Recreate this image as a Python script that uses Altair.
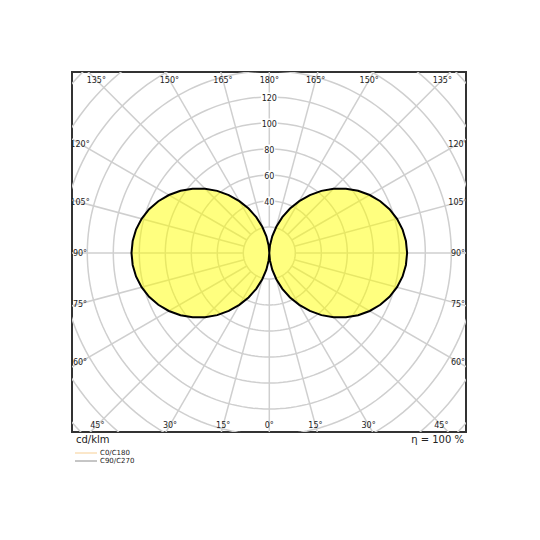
import altair as alt
import pandas as pd
import numpy as np

# ---- data ----
GAMMA = list(range(0, 185, 5))
INTENSITY = [0.0, 5.7, 13.0, 20.9, 29.3, 37.7, 46.1, 54.4, 62.4, 69.9, 77.0, 83.4,
             89.2, 94.2, 98.4, 101.7, 104.1, 105.5, 106.0,
             105.5, 104.1, 101.7, 98.4, 94.2, 89.2, 83.4, 77.0, 69.9, 62.4, 54.4,
             46.1, 37.7, 29.3, 20.9, 13.0, 5.7, 0.0]
RINGS = [20, 40, 60, 80, 100, 120, 140, 160, 180, 200, 220]
RING_LABELS = [40, 60, 80, 100, 120]
SPOKES = list(range(0, 360, 15))
ANGLE_LABELS = [0, 15, 30, 45, 60, 75, 90, 105, 120, 135, 150, 165, 180]
UNIT_LABEL = "cd/klm"
EFF_LABEL = "η = 100 %"
LEGEND = ["C0/C180", "C90/C270"]
LEGEND_COLORS = ["#f7cf94", "#8c8c8c"]

# ---- layout ----
PX = 1.3                      # pixels per cd/klm
W, H = 394, 360
XDOM = [-197.3 / PX, 196.7 / PX]
YDOM = [-179.0 / PX, 181.0 / PX]
xs = alt.Scale(domain=XDOM, nice=False, zero=False)
ys = alt.Scale(domain=YDOM, nice=False, zero=False)
FONT = "DejaVu Sans"
GRID = "#cfcfcf"

g = np.radians(GAMMA)
I = np.array(INTENSITY)

# outline: right half gamma 0..180, then left half 180..0
right = pd.DataFrame({"x": I * np.sin(g), "y": -I * np.cos(g)})
left = pd.DataFrame({"x": -I * np.sin(g), "y": -I * np.cos(g)}).iloc[::-1]
outline = pd.concat([right, left], ignore_index=True)
outline["o"] = range(len(outline))

# fill: pair gamma with 180-gamma
n = len(GAMMA)
half = [i for i in range(n) if GAMMA[i] <= 90]
rows = []
for side in (-1, 1):
    for i in half:
        j = n - 1 - i
        rows.append({"side": side,
                     "x": side * INTENSITY[i] * np.sin(g[i]),
                     "y": -INTENSITY[i] * np.cos(g[i]),
                     "y2": -INTENSITY[j] * np.cos(g[j])})
fill = pd.DataFrame(rows)

# rings
rr = []
for R in RINGS:
    for k, a in enumerate(np.radians(np.arange(0, 362, 2))):
        rr.append({"ring": R, "k": k, "x": R * np.sin(a), "y": R * np.cos(a)})
rings = pd.DataFrame(rr)

# spokes
sa = np.radians(SPOKES)
spokes = pd.DataFrame({"x": RINGS[0] * np.sin(sa), "y": RINGS[0] * np.cos(sa),
                       "x2": 320 * np.sin(sa), "y2": 320 * np.cos(sa)})

# angle labels placed on the spoke, just inside the frame
inx_l, inx_r = (197.3 - 8) / PX, (196.7 - 8) / PX
iny_b, iny_t = (179.0 - 7) / PX, (181.0 - 8) / PX
lab = []
for a in ANGLE_LABELS:
    sides = (-1, 1) if 0 < a < 180 else (1,)
    for s in sides:
        dx, dy = np.sin(np.radians(a)) * s, -np.cos(np.radians(a))
        ts = []
        if dx < -1e-9: ts.append(inx_l / -dx)
        if dx > 1e-9: ts.append(inx_r / dx)
        if dy < -1e-9: ts.append(iny_b / -dy)
        if dy > 1e-9: ts.append(iny_t / dy)
        t = min(ts)
        lab.append({"x": t * dx, "y": t * dy, "t": f"{a}°"})
angle_labels = pd.DataFrame(lab)

# radial labels with white background
rl = pd.DataFrame({"v": RING_LABELS, "t": [str(v) for v in RING_LABELS]})
rl["x"] = 0.0
rl["y"] = rl["v"].astype(float)
rl["hw"] = rl["t"].str.len() * 8 * 0.636 / 2 / PX + 0.6
rl["x1"] = -rl["hw"]
rl["x2"] = rl["hw"]
rl["y1"] = rl["y"] - 4.5 / PX
rl["y2"] = rl["y"] + 4.5 / PX

ring_layer = alt.Chart(rings).mark_line(stroke=GRID, strokeWidth=1.5, clip=True).encode(
    x=alt.X("x:Q", scale=xs, axis=None), y=alt.Y("y:Q", scale=ys, axis=None),
    detail="ring:N", order="k:Q")
spoke_layer = alt.Chart(spokes).mark_rule(stroke=GRID, strokeWidth=1.5, clip=True).encode(
    x=alt.X("x:Q", scale=xs, axis=None), y=alt.Y("y:Q", scale=ys, axis=None),
    x2="x2:Q", y2="y2:Q")
fill_layer = alt.Chart(fill).mark_area(color="#ffff00", opacity=0.5).encode(
    x=alt.X("x:Q", scale=xs, axis=None), y=alt.Y("y:Q", scale=ys, axis=None),
    y2="y2:Q", detail="side:N")
line_layer = alt.Chart(outline).mark_line(color="black", strokeWidth=2).encode(
    x=alt.X("x:Q", scale=xs, axis=None), y=alt.Y("y:Q", scale=ys, axis=None),
    order="o:Q")
bg_layer = alt.Chart(rl).mark_rect(color="white").encode(
    x=alt.X("x1:Q", scale=xs, axis=None), x2="x2:Q",
    y=alt.Y("y1:Q", scale=ys, axis=None), y2="y2:Q")
rl_layer = alt.Chart(rl).mark_text(font=FONT, fontSize=8, color="#222",
                                   align="center", baseline="middle", dy=1.5).encode(
    x=alt.X("x:Q", scale=xs, axis=None), y=alt.Y("y:Q", scale=ys, axis=None), text="t:N")
al_layer = alt.Chart(angle_labels).mark_text(font=FONT, fontSize=8, color="#222",
                                             align="center", baseline="middle",
                                             clip=True, dy=1).encode(
    x=alt.X("x:Q", scale=xs, axis=None), y=alt.Y("y:Q", scale=ys, axis=None), text="t:N")

unit_layer = alt.Chart(pd.DataFrame({"t": [UNIT_LABEL]})).mark_text(
    font=FONT, fontSize=10, color="#222", align="left", baseline="middle").encode(
    x=alt.value(4), y=alt.value(368), text="t:N")
eff_layer = alt.Chart(pd.DataFrame({"t": [EFF_LABEL]})).mark_text(
    font=FONT, fontSize=10, color="#222", align="right", baseline="middle").encode(
    x=alt.value(392), y=alt.value(368), text="t:N")

leg = pd.DataFrame({"t": LEGEND, "c": LEGEND_COLORS, "yy": [381, 389]})
leg_lines = alt.Chart(leg).mark_rule(strokeWidth=1).encode(
    x=alt.value(3), x2=alt.value(25), y=alt.Y("yy:Q", scale=None),
    color=alt.Color("c:N", scale=None))
leg_text = alt.Chart(leg).mark_text(font=FONT, fontSize=7, color="#222",
                                    align="left", baseline="middle").encode(
    x=alt.value(28), y=alt.Y("yy:Q", scale=None), text="t:N")

chart = alt.layer(ring_layer, spoke_layer, fill_layer, line_layer, bg_layer, rl_layer,
                  al_layer, unit_layer, eff_layer, leg_lines, leg_text).properties(
    width=W, height=H,
    padding={"left": 64, "top": 64, "right": 10, "bottom": 60},
    autosize=alt.AutoSizeParams(type="none"),
    background="white",
).configure_view(stroke="#333333", strokeWidth=2)

chart.save("out.html", embed_options={"renderer": "svg", "actions": False})
